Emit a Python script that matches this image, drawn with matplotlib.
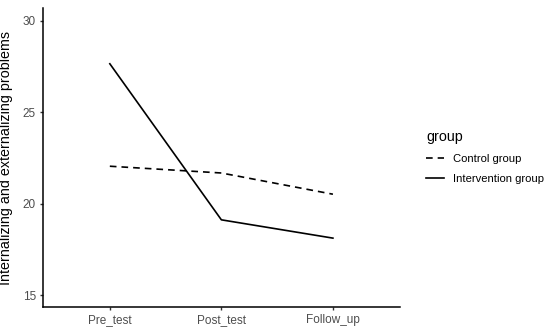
import matplotlib
matplotlib.use("Agg")
import matplotlib.pyplot as plt
from matplotlib.lines import Line2D

plt.rcParams['font.family'] = ['Liberation Sans', 'DejaVu Sans']

# data
times = ["Pre_test", "Post_test", "Follow_up"]
control = [22.05, 21.68, 20.52]
intervention = [27.65, 19.12, 18.12]

fig = plt.figure(figsize=(5.5, 3.32), dpi=100)
ax = fig.add_axes([0.078, 0.075, 0.649, 0.901])

x = [1, 2, 3]
ax.plot(x, control, color='black', lw=1.2, linestyle=(0, (4, 3)))
ax.plot(x, intervention, color='black', lw=1.2)

ax.set_xlim(0.4, 3.6)
ax.set_ylim(14.35, 30.7)
ax.set_xticks(x)
ax.set_xticklabels(times)
ax.set_yticks([15, 20, 25, 30])

for s in ['top', 'right']:
    ax.spines[s].set_visible(False)
for s in ['left', 'bottom']:
    ax.spines[s].set_linewidth(1.1)
ax.tick_params(axis='both', colors='#333333', labelcolor='#4d4d4d', labelsize=8.5,
               length=2.5, width=1, pad=2.5)
ax.set_ylabel("Internalizing and externalizing problems", fontsize=10.3, labelpad=7)

handles = [Line2D([], [], color='black', lw=1.2, linestyle=(0, (4, 3))),
           Line2D([], [], color='black', lw=1.2)]
leg = fig.legend(handles, ["Control group", "Intervention group"], title="group",
                 loc='upper left', bbox_to_anchor=(0.757, 0.639), frameon=False,
                 fontsize=8.1, title_fontsize=10.3, handlelength=1.6,
                 handletextpad=0.8, labelspacing=0.88, alignment='left')

fig.savefig("out.png", dpi=100)
